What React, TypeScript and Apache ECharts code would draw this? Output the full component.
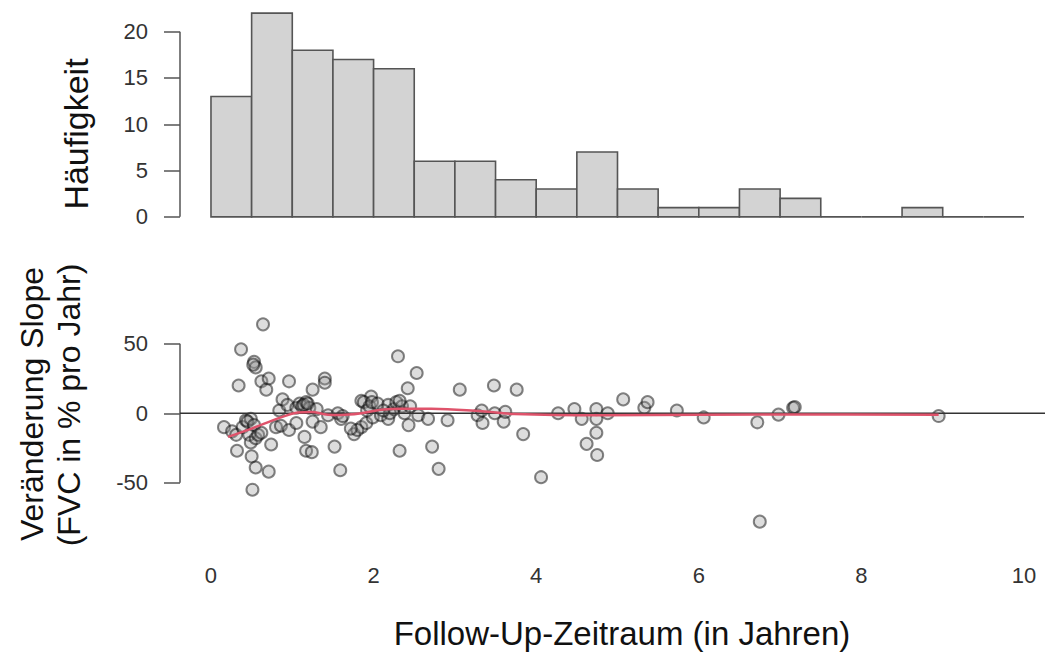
import React, { useEffect, useRef } from "react";
import * as echarts from "echarts";

// Histogram (bins of 0.5 years)
const binStarts = [0, 0.5, 1, 1.5, 2, 2.5, 3, 3.5, 4, 4.5, 5, 5.5, 6, 6.5, 7, 7.5, 8, 8.5, 9, 9.5];
const binWidth = 0.5;
const counts = [13, 22, 18, 17, 16, 6, 6, 4, 3, 7, 3, 1, 1, 3, 2, 0, 0, 1, 0, 0];
const histTicks = [0, 5, 10, 15, 20];

// Scatter: follow-up (years) vs change in slope (FVC % per year)
const followUp = [
  0.16, 0.26, 0.31, 0.32, 0.34, 0.37, 0.39, 0.43, 0.47, 0.49, 0.49, 0.45, 0.5,
  0.51, 0.53, 0.53, 0.55, 0.55, 0.55, 0.58, 0.62, 0.62, 0.64, 0.68, 0.71, 0.71, 0.74, 0.8, 0.84, 0.86, 0.88, 0.94, 0.96, 0.96, 0.52,
  1.05, 1.05, 1.09, 1.12, 1.15, 1.17, 1.17, 1.21, 1.24, 1.25, 1.25, 1.35, 1.4, 1.4, 1.44, 1.14, 1.19, 1.3,
  1.52, 1.56, 1.59, 1.6, 1.76, 1.85, 1.85, 1.91, 1.97, 1.99, 1.8, 1.88, 1.92, 1.95, 1.72, 1.98, 1.62,
  2.05, 2.09, 2.18, 2.18, 2.3, 2.32, 2.42, 2.43, 2.25, 2.28, 2.35, 2.38, 2.2, 2.45, 2.12, 2.32,
  2.53, 2.55, 2.67, 2.72, 2.8, 2.91,
  3.06, 3.28, 3.33, 3.34, 3.49, 3.48,
  3.6, 3.62, 3.76, 3.84,
  4.06, 4.27, 4.47,
  4.56, 4.62, 4.74, 4.74, 4.74, 4.75, 4.88,
  5.07, 5.33, 5.37,
  5.73, 6.06,
  6.72, 6.75, 6.98,
  7.16, 7.18,
  8.95,
];
const slope = [
  -10, -13, -15.5, -27, 20, 46, -10, -5, -15.5, -21, -4, -6, -31,
  -55, -8.5, 37, 33, -18, -39, -15.5, -14, 23, 64, 17, 25, -42, -22.5, -10, 2, -9, 10, 6, 23, -12, 35,
  4, -7, 7, 5, -17, 8, -27, 4, -28, 17, -6, -10, 25, 22, -1.4, 6, 7, 3,
  -24, 0, -41, -4, -15, 9, -10, -7, 12, -3, -12, 8, 2, 5, -11, 8, -2,
  7, -1.4, 6, -4, 41, -27, 18, -8.5, 3, 8, 5, 0, 0, 5, 2, 9,
  29, -1.4, -4, -24, -40, -5,
  17, -1.4, 2, -7, 0, 20,
  -6, 1, 17, -15,
  -46, 0, 3,
  -4, -22, 3, -4, -14, -30, 0,
  10, 4, 8,
  2, -3,
  -6.5, -78, -1,
  4, 4.5,
  -2,
];
const slopeTicks = [-50, 0, 50];
const xTicks = [0, 2, 4, 6, 8, 10];

// Smoothed (lowess) curve
const smoothX = [0.21, 0.5, 0.86, 1.07, 1.23, 1.44, 1.6, 1.85, 2.09, 2.34, 2.71, 3.33, 3.73, 4.8, 7.27, 8.95];
const smoothY = [-17, -11, -3, 0.5, 1, -1, -1.2, 0, 2.5, 3.3, 3.3, 1.4, -0.5, -1.4, -0.8, -1];

const X_MIN = -0.381;
const X_MAX = 10.258;

export default function App() {
  const ref = useRef<HTMLDivElement>(null);
  useEffect(() => {
    if (!ref.current) return;
    const chart = echarts.init(ref.current, null, { renderer: "svg" });
    const font = "Liberation Sans, Arial, sans-serif";
    const axisColor = "#555";
    const labelStyle = { fontSize: 22, color: "#333", fontFamily: font };

    const histData = binStarts.map((s, i) => [s, s + binWidth, counts[i]]);
    const scatterData = followUp.map((x, i) => [x, slope[i]]);
    const smoothData = smoothX.map((x, i) => [x, smoothY[i]]);

    chart.setOption({
      animation: false,
      backgroundColor: "#fff",
      grid: [
        { left: 180, right: 0, top: 5, height: 220 },
        { left: 180, right: 0, top: 316, height: 214 },
      ],
      xAxis: [
        {
          type: "value", gridIndex: 0, min: X_MIN, max: X_MAX,
          show: false, splitLine: { show: false }, axisLine: { onZero: false },
        },
        {
          type: "value", gridIndex: 1, min: X_MIN, max: X_MAX,
          axisLine: { show: false, onZero: false }, axisTick: { show: false }, splitLine: { show: false },
          axisLabel: { ...labelStyle, margin: 34, customValues: xTicks },
        },
      ],
      yAxis: [
        {
          type: "value", gridIndex: 0, min: -0.88, max: 22.88,
          axisLine: { show: false, onZero: false }, splitLine: { show: false },
          axisTick: { show: true, length: 16, customValues: histTicks, lineStyle: { color: axisColor, width: 1.5 } },
          axisLabel: { ...labelStyle, margin: 32, customValues: histTicks },
        },
        {
          type: "value", gridIndex: 1, min: -84, max: 70,
          axisLine: { show: false, onZero: false }, splitLine: { show: false },
          axisTick: { show: true, length: 16, customValues: slopeTicks, lineStyle: { color: axisColor, width: 1.5 } },
          axisLabel: { ...labelStyle, margin: 32, customValues: slopeTicks },
        },
      ],
      series: [
        {
          type: "custom", xAxisIndex: 0, yAxisIndex: 0, clip: false,
          data: histData,
          encode: { x: [0, 1], y: 2 },
          renderItem: (params: any, api: any) => {
            const p0 = api.coord([api.value(0), api.value(2)]);
            const p1 = api.coord([api.value(1), 0]);
            return {
              type: "rect",
              shape: { x: p0[0], y: p0[1], width: p1[0] - p0[0], height: p1[1] - p0[1] },
              style: { fill: "#d3d3d3", stroke: "#555", lineWidth: 1.6 },
            };
          },
        },
        {
          type: "line", xAxisIndex: 0, yAxisIndex: 0, clip: false, symbol: "none", silent: true,
          data: [[X_MIN, histTicks[0]], [X_MIN, histTicks[histTicks.length - 1]]],
          lineStyle: { color: axisColor, width: 1.5 },
        },
        {
          type: "line", xAxisIndex: 1, yAxisIndex: 1, clip: false, symbol: "none", silent: true,
          data: [[X_MIN, slopeTicks[0]], [X_MIN, slopeTicks[slopeTicks.length - 1]]],
          lineStyle: { color: axisColor, width: 1.5 },
        },
        {
          type: "line", xAxisIndex: 1, yAxisIndex: 1, clip: false, symbol: "none", silent: true,
          data: [[X_MIN, 0], [X_MAX, 0]],
          lineStyle: { color: "#333", width: 1.3 },
        },
        {
          type: "scatter", xAxisIndex: 1, yAxisIndex: 1,
          data: scatterData,
          symbol: "circle", symbolSize: 12,
          itemStyle: { color: "rgba(150,150,150,0.4)", borderColor: "rgba(0,0,0,0.6)", borderWidth: 2 },
        },
        {
          type: "line", xAxisIndex: 1, yAxisIndex: 1, symbol: "none", smooth: 0.4,
          data: smoothData,
          lineStyle: { color: "#DF536B", width: 2.5 },
        },
      ],
      graphic: [
        {
          type: "text", x: 76, y: 134, rotation: Math.PI / 2,
          style: { text: "Häufigkeit", font: `34px ${font}`, fill: "#111", textAlign: "center", textVerticalAlign: "middle" },
        },
        {
          type: "text", x: 32, y: 404, rotation: Math.PI / 2,
          style: { text: "Veränderung Slope", font: `32px ${font}`, fill: "#111", textAlign: "center", textVerticalAlign: "middle" },
        },
        {
          type: "text", x: 69, y: 405, rotation: Math.PI / 2,
          style: { text: "(FVC in % pro Jahr)", font: `32px ${font}`, fill: "#111", textAlign: "center", textVerticalAlign: "middle" },
        },
        {
          type: "text", x: 622, y: 633,
          style: { text: "Follow-Up-Zeitraum (in Jahren)", font: `33px ${font}`, fill: "#111", textAlign: "center", textVerticalAlign: "middle" },
        },
      ],
    });
    return () => chart.dispose();
  }, []);
  return <div ref={ref} style={{ position: "fixed", left: 0, top: 0, width: 1045, height: 655 }} />;
}
